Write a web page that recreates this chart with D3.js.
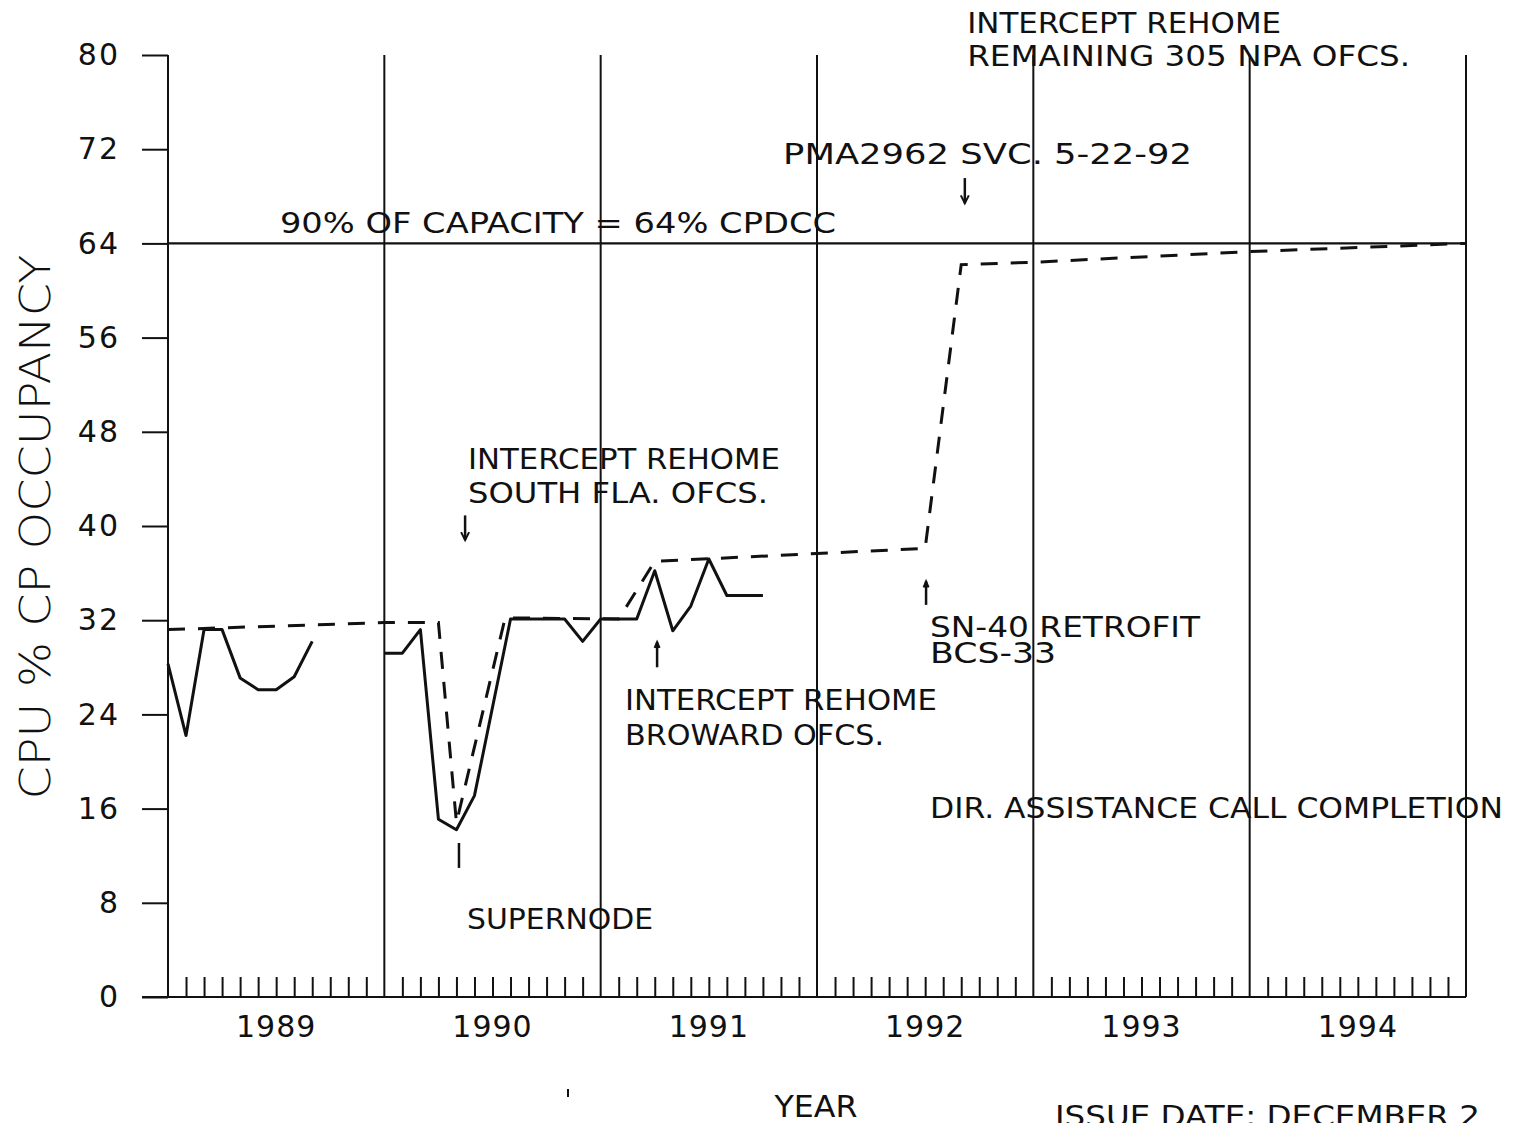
<!DOCTYPE html>
<html>
<head>
<meta charset="utf-8">
<script src="https://cdn.jsdelivr.net/npm/d3@7"></script>
<style>
  html, body { margin: 0; padding: 0; background: #fff; overflow: hidden; }
  svg { display: block; }
  text { font-family: "DejaVu Sans", sans-serif; fill: #111; }
</style>
</head>
<body>
<svg id="chart" width="1516" height="1123"></svg>
<script>
// ---------------- DATA ----------------
// months counted from start of 1989 (0 = Jan 1989, 72 = end of 1994)
const yearLabels = ["1989", "1990", "1991", "1992", "1993", "1994"];
const yTickValues = [0, 8, 16, 24, 32, 40, 48, 56, 64, 72, 80];
const capacityLevel = 64;

const actual1989Months = [0, 1, 2, 3, 4, 5, 6, 7, 8];
const actual1989Values = [28.3, 22.2, 31.2, 31.2, 27.1, 26.1, 26.1, 27.2, 30.2];

const actualMonths = [12, 13, 14, 15, 16, 17, 19, 22, 23, 24, 26, 27, 28, 29, 30, 31, 33];
const actualValues = [29.2, 29.2, 31.2, 15.1, 14.2, 17.1, 32.1, 32.1, 30.2, 32.1, 32.1, 36.2, 31.1, 33.2, 37.2, 34.1, 34.1];

const forecastMonths = [0, 12, 15, 16, 18.7, 25, 27, 42, 44, 48, 60, 72];
const forecastValues = [31.2, 31.8, 31.8, 14.8, 32.2, 32.1, 37.0, 38.1, 62.2, 62.4, 63.3, 64.0];

// annotations anchored in data coordinates (month, value)
const annotationTexts = [
  ["90% OF CAPACITY = 64% CPDCC"],
  ["INTERCEPT REHOME", "REMAINING 305 NPA OFCS."],
  ["PMA2962 SVC. 5-22-92"],
  ["INTERCEPT REHOME", "SOUTH FLA. OFCS."],
  ["SN-40 RETROFIT", "BCS-33"],
  ["INTERCEPT REHOME", "BROWARD OFCS."],
  ["DIR. ASSISTANCE CALL COMPLETION"],
  ["SUPERNODE"]
];
const annotationMonths = [6.21, 44.33, 34.12, 16.64, 42.27, 25.35, 42.27, 16.59];
const annotationValues = [64.9, 81.87, 70.74, 44.84, 30.57, 24.37, 15.2, 5.77];

// pointer marks: [month, valueFrom, valueTo, head ("down"/"up"/"none")]
const pointerMonths = [16.48, 44.2, 16.14, 27.13, 42.05];
const pointerFrom = [40.9, 69.55, 13.08, 30.15, 35.3];
const pointerTo = [38.8, 67.4, 10.96, 28.0, 33.3];
const pointerHeads = ["down", "down", "none", "up", "up"];

// ---------------- LAYOUT ----------------
const svg = d3.select("#chart");
const X0 = 168, X1 = 1466, Y0 = 997, Y1 = 55;
const x = d3.scaleLinear().domain([0, 72]).range([X0, X1]);
const y = d3.scaleLinear().domain([0, 80]).range([Y0, Y1]);
const ink = "#111";

// annotation pixel widths (for matching the plotter lettering)
const annotationWidths = [
  [556],
  [314, 443],
  [409],
  [312, 300],
  [270, 126],
  [312, 259],
  [573],
  [186]
];
const lineGap = [0, 33, 0, 34, 26, 35, 0, 0];

// y axis
const yAxis = d3.axisLeft(y).tickValues(yTickValues).tickSize(26).tickPadding(22).tickSizeOuter(0);
const gy = svg.append("g").attr("transform", `translate(${X0},0)`).call(yAxis);
gy.select(".domain").remove();
gy.selectAll(".tick line").attr("stroke", ink).attr("stroke-width", 2);
gy.selectAll(".tick text").attr("font-size", 30).attr("letter-spacing", 2)
  .attr("font-family", "DejaVu Sans, sans-serif").attr("fill", ink);

// month ticks along bottom
const monthTicks = d3.range(1, 72).filter(m => m % 12 !== 0);
const xAxis = d3.axisTop(x).tickValues(monthTicks).tickSize(20).tickFormat("").tickSizeOuter(0);
const gx = svg.append("g").attr("transform", `translate(0,${Y0})`).call(xAxis);
gx.select(".domain").remove();
gx.selectAll(".tick line").attr("stroke", ink).attr("stroke-width", 2);

// baseline
svg.append("line").attr("x1", X0 - 26).attr("x2", x(72)).attr("y1", y(0)).attr("y2", y(0))
  .attr("stroke", ink).attr("stroke-width", 2);

// year boundary lines
svg.append("g").selectAll("line").data(d3.range(0, 73, 12)).join("line")
  .attr("x1", d => x(d)).attr("x2", d => x(d))
  .attr("y1", y(80)).attr("y2", y(0))
  .attr("stroke", ink).attr("stroke-width", 2);

// capacity line
svg.append("line").attr("x1", x(0)).attr("x2", x(72))
  .attr("y1", y(capacityLevel)).attr("y2", y(capacityLevel))
  .attr("stroke", ink).attr("stroke-width", 2.2);

// year labels
svg.append("g").selectAll("text").data(yearLabels).join("text")
  .attr("x", (d, i) => x(i * 12 + 6)).attr("y", 1037)
  .attr("text-anchor", "middle").attr("font-size", 30).attr("letter-spacing", 1)
  .text(d => d);

// lines
const line = d3.line().x(d => x(d[0])).y(d => y(d[1]));
svg.append("path").datum(forecastMonths.map((m, i) => [m, forecastValues[i]]))
  .attr("d", line).attr("fill", "none").attr("stroke", ink)
  .attr("stroke-width", 3).attr("stroke-dasharray", "17,13");
svg.append("path").datum(actual1989Months.map((m, i) => [m, actual1989Values[i]]))
  .attr("d", line).attr("fill", "none").attr("stroke", ink).attr("stroke-width", 3)
  .attr("stroke-linejoin", "round");
svg.append("path").datum(actualMonths.map((m, i) => [m, actualValues[i]]))
  .attr("d", line).attr("fill", "none").attr("stroke", ink).attr("stroke-width", 3)
  .attr("stroke-linejoin", "round");

// annotations
annotationTexts.forEach((lines, i) => {
  lines.forEach((t, j) => {
    svg.append("text")
      .attr("x", x(annotationMonths[i]))
      .attr("y", y(annotationValues[i]) + j * lineGap[i])
      .attr("font-size", 29)
      .attr("textLength", annotationWidths[i][j])
      .attr("lengthAdjust", "spacingAndGlyphs")
      .text(t);
  });
});

// pointers
pointerMonths.forEach((m, i) => {
  const px = x(m), ya = y(pointerFrom[i]), yb = y(pointerTo[i]);
  svg.append("line").attr("x1", px).attr("x2", px).attr("y1", ya).attr("y2", yb)
    .attr("stroke", ink).attr("stroke-width", 2.5);
  if (pointerHeads[i] === "down") {
    svg.append("path").attr("d", `M${px - 4},${yb - 8} L${px},${yb} L${px + 4},${yb - 8}`)
      .attr("fill", "none").attr("stroke", ink).attr("stroke-width", 2);
  } else if (pointerHeads[i] === "up") {
    svg.append("path").attr("d", `M${px - 2.5},${ya + 6} L${px},${ya} L${px + 2.5},${ya + 6}`)
      .attr("fill", ink).attr("stroke", ink).attr("stroke-width", 2);
  }
});

// axis titles
svg.append("text").attr("transform", "translate(50,527) rotate(-90)")
  .attr("text-anchor", "middle").attr("font-size", 43)
  .attr("textLength", 545).attr("lengthAdjust", "spacingAndGlyphs")
  .attr("font-weight", 300)
  .text("CPU % CP OCCUPANCY");
svg.append("text").attr("x", 816).attr("y", 1117).attr("text-anchor", "middle")
  .attr("font-size", 31).attr("textLength", 83).attr("lengthAdjust", "spacingAndGlyphs")
  .text("YEAR");
svg.append("text").attr("x", 1055).attr("y", 1126)
  .attr("font-size", 29).attr("textLength", 425).attr("lengthAdjust", "spacingAndGlyphs")
  .text("ISSUE DATE: DECEMBER 2");
// small speck
svg.append("line").attr("x1", 568).attr("x2", 568).attr("y1", 1089).attr("y2", 1097)
  .attr("stroke", ink).attr("stroke-width", 2);
</script>
</body>
</html>
